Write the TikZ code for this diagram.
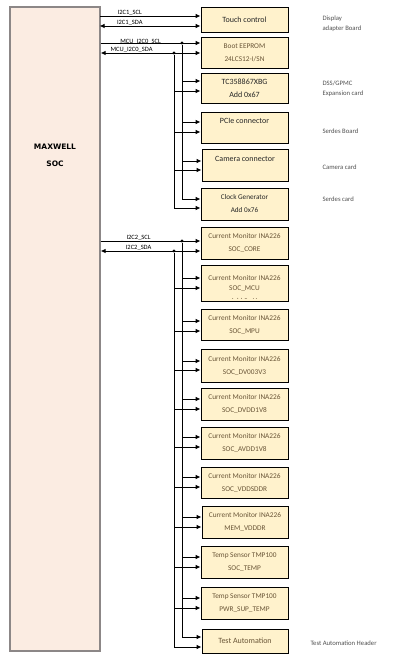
\documentclass[tikz,border=0pt]{standalone}
\usepackage{fontspec}
\setmainfont{Carlito}
\newfontfamily\socfont{DejaVu Sans}
\usepackage{tikz}
\usetikzlibrary{arrows,arrows.meta}
\definecolor{boxfill}{RGB}{255,242,204}
\definecolor{socfill}{RGB}{251,236,226}
\definecolor{socline}{RGB}{140,135,135}
\definecolor{cmtext}{RGB}{105,85,55}
\definecolor{notetext}{RGB}{80,80,80}

\begin{document}
\begin{tikzpicture}[x=1pt,y=-1pt,>={Latex[length=5pt,width=4.6pt]},
  blk/.style={draw, line width=0.9pt, fill=boxfill, minimum width=87pt, inner sep=0pt,
    align=center, text=cmtext, font=\fontsize{7.3}{13}\selectfont},
  dark/.style={text=black!85, font=\fontsize{8}{13}\selectfont},
  sig/.style={line width=0.9pt},
  dot/.style={circle, fill, inner sep=0pt, minimum size=3.4pt},
  buslbl/.style={font=\fontsize{6.5}{7}\selectfont, inner sep=0.5pt, above},
  note/.style={font=\fontsize{6.7}{9.5}\selectfont, text=notetext, align=left, anchor=west}]

\useasboundingbox (0,0) rectangle (416,668);

% SoC
\node[draw=socline, line width=1.3pt, fill=socfill, minimum width=90pt, minimum height=644pt] (soc) at (55,329) {};
\node[font=\socfont\bfseries\fontsize{7.5}{17}\selectfont, align=center] (soclbl) at (55,155.5) {MAXWELL\\SOC};

% I2C1 / MCU_I2C0 devices
\node[blk, dark, minimum height=25pt] (touch)  at (244.5,19.5)  {Touch control};
\node[blk, minimum height=31pt]       (eeprom) at (244.5,52.5)  {Boot EEPROM\\24LCS12-I/SN};
\node[blk, dark, minimum height=30pt] (tc)     at (244.5,88)    {TC358867XBG\\Add 0x67};
\node[blk, dark, minimum height=31pt] (pcie)   at (244.5,127.5) {PCIe connector\\\mbox{}};
\node[blk, dark, minimum height=32pt, minimum width=86pt] (camera) at (245,165) {Camera connector\\\mbox{}};
\node[blk, minimum height=32pt, text=black!85, font=\fontsize{7.2}{13}\selectfont] (clock) at (244.5,204) {Clock Generator\\Add 0x76};

% I2C2 devices
\node[blk, minimum height=32pt] (core)    at (244.5,243)   {Current Monitor INA226\\SOC\_CORE};
\node[blk, minimum height=36pt, font=\fontsize{7.3}{10.5}\selectfont] (mcu) at (244.5,283.5) {Current Monitor INA226\\SOC\_MCU};
\node[blk, minimum height=31pt] (mpu)     at (244.5,324.5) {Current Monitor INA226\\SOC\_MPU};
\node[blk, minimum height=33pt] (dv003)   at (244.5,365.5) {Current Monitor INA226\\SOC\_DV003V3};
\node[blk, minimum height=32pt] (dvdd)    at (244.5,404)   {Current Monitor INA226\\SOC\_DVDD1V8};
\node[blk, minimum height=32pt] (avdd)    at (244.5,443)   {Current Monitor INA226\\SOC\_AVDD1V8};
\node[blk, minimum height=31pt] (vddsddr) at (244.5,482.5) {Current Monitor INA226\\SOC\_VDDSDDR};
\node[blk, minimum height=32pt, minimum width=86pt] (memddr) at (245,522) {Current Monitor INA226\\MEM\_VDDDR};
\node[blk, minimum height=32pt] (soctemp) at (244.5,562)   {Temp Sensor TMP100\\SOC\_TEMP};
\node[blk, minimum height=32pt] (pwrtemp) at (244.5,603)   {Temp Sensor TMP100\\PWR\_SUP\_TEMP};
\node[blk, minimum height=24pt, minimum width=86pt, font=\fontsize{8}{13}\selectfont] (test) at (245,641) {Test Automation};

\begin{scope}
\clip (mcu.north west) rectangle ([yshift=3pt]mcu.south east);
\node[text=cmtext, font=\fontsize{7.3}{8}\selectfont] (mcuadd) at (244.5,300.5) {Add 0x41};
\end{scope}

% I2C1
\draw[sig,<-] ([yshift=3.5pt]touch.west) -- node[buslbl,pos=0.7] {I2C1\_SCL} ++(-101,0);
\draw[sig,<->] ([yshift=-6.5pt]touch.west) -- node[buslbl,pos=0.7] {I2C1\_SDA} ++(-101,0);

% MCU_I2C0
\node[dot] (mscl) at (182,43) {};
\node[dot] (msda) at (174,53) {};
\draw[sig,->] (soc.east |- mscl) -- node[buslbl,pos=0.4,yshift=-2pt] {MCU\_I2C0\_SCL} (eeprom.west |- mscl);
\draw[sig,<->] (soc.east |- msda) -- node[buslbl,pos=0.31] {MCU\_I2C0\_SDA} (eeprom.west |- msda);
\draw[sig,<-] ([yshift=7pt]tc.west) -- ++(-19,0);
\draw[sig,<-] ([yshift=-3pt]tc.west) -- ++(-27,0);
\draw[sig,<-] ([yshift=5.5pt]pcie.west) -- ++(-19,0);
\draw[sig,<-] ([yshift=-4.5pt]pcie.west) -- ++(-27,0);
\draw[sig,<-] ([yshift=4pt]camera.west) -- ++(-20,0);
\draw[sig,<-] ([yshift=-5pt]camera.west) -- ++(-28,0);
\draw[sig,<-] ([yshift=5pt]clock.west) -| (mscl);
\draw[sig,<-] ([yshift=-4pt]clock.west) -| (msda);

% I2C2
\node[dot] (cscl) at (182,241) {};
\node[dot] (csda) at (174,251) {};
\draw[sig,->] (soc.east |- cscl) -- node[buslbl,pos=0.38] {I2C2\_SCL} (core.west |- cscl);
\draw[sig,<->] (soc.east |- csda) -- node[buslbl,pos=0.38] {I2C2\_SDA} (core.west |- csda);
\draw[sig,<-] ([yshift=5.5pt]mcu.west) -- ++(-19,0);
\draw[sig,<-] ([yshift=-4.5pt]mcu.west) -- ++(-27,0);
\draw[sig,<-] ([yshift=3.5pt]mpu.west) -- ++(-19,0);
\draw[sig,<-] ([yshift=-6.5pt]mpu.west) -- ++(-27,0);
\draw[sig,<-] ([yshift=4.5pt]dv003.west) -- ++(-19,0);
\draw[sig,<-] ([yshift=-4.5pt]dv003.west) -- ++(-27,0);
\draw[sig,<-] ([yshift=5pt]dvdd.west) -- ++(-19,0);
\draw[sig,<-] ([yshift=-5pt]dvdd.west) -- ++(-27,0);
\draw[sig,<-] ([yshift=6pt]avdd.west) -- ++(-19,0);
\draw[sig,<-] ([yshift=-4pt]avdd.west) -- ++(-27,0);
\draw[sig,<-] ([yshift=5.5pt]vddsddr.west) -- ++(-19,0);
\draw[sig,<-] ([yshift=-4.5pt]vddsddr.west) -- ++(-27,0);
\draw[sig,<-] ([yshift=5pt]memddr.west) -- ++(-20,0);
\draw[sig,<-] ([yshift=-5pt]memddr.west) -- ++(-28,0);
\draw[sig,<-] ([yshift=5pt]soctemp.west) -- ++(-19,0);
\draw[sig,<-] ([yshift=-5pt]soctemp.west) -- ++(-27,0);
\draw[sig,<-] ([yshift=5pt]pwrtemp.west) -- ++(-19,0);
\draw[sig,<-] ([yshift=-5pt]pwrtemp.west) -- ++(-27,0);
\draw[sig,<-] ([yshift=4pt]test.west) -| (cscl);
\draw[sig,<-] ([yshift=-6pt]test.west) -| (csda);

% boards
\node[note] (disp)   at (319,23.5) {Display\\adapter Board};
\node[note] (dss)    at (319,88.5) {DSS/GPMC\\Expansion card};
\node[note] (serb)   at (319,131)  {Serdes Board};
\node[note] (camc)   at (319,167)  {Camera card};
\node[note] (serc)   at (319,199)  {Serdes card};
\node[note] (header) at (307,643)  {Test Automation Header};

\end{tikzpicture}
\end{document}
